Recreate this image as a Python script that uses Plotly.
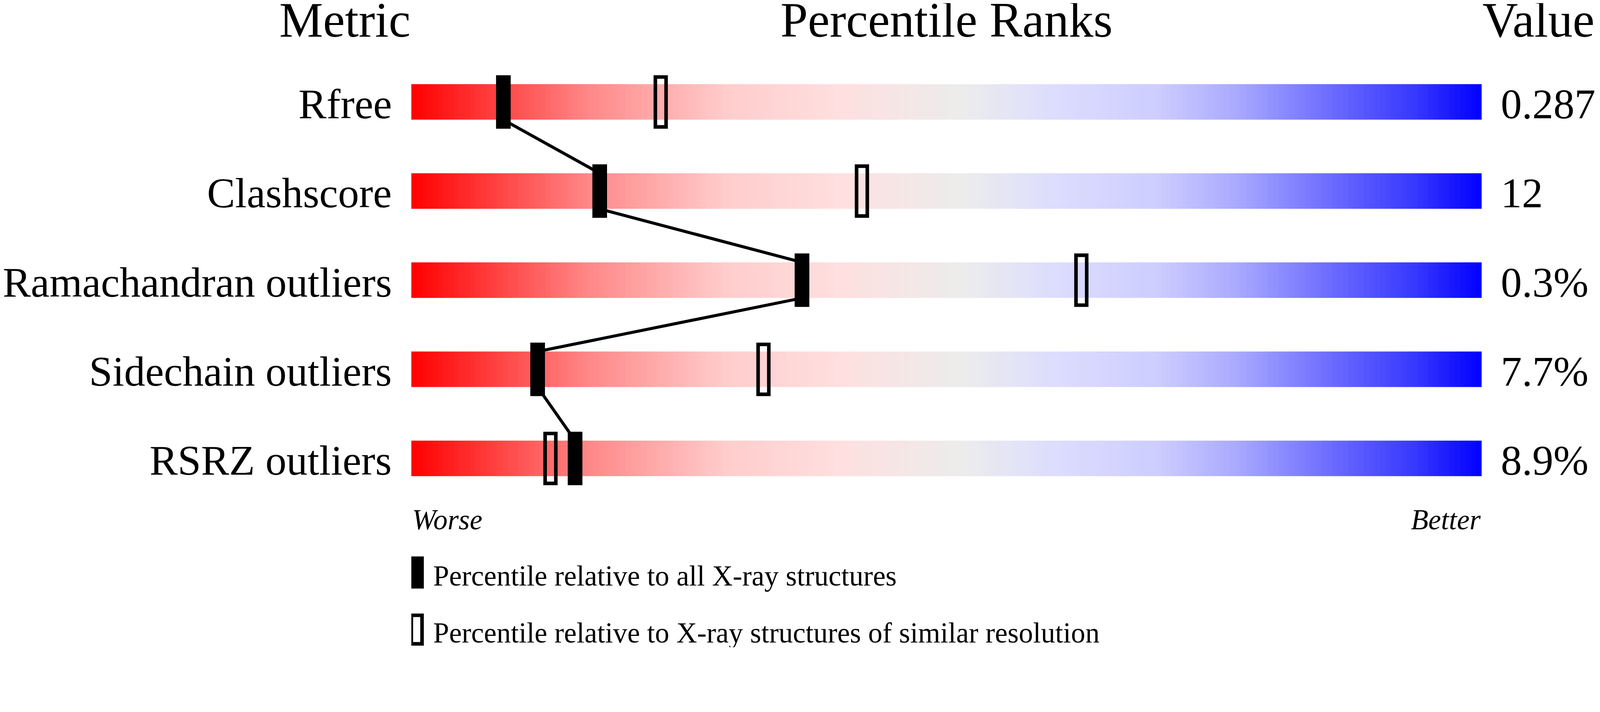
import plotly.graph_objects as go

metrics = ["Rfree", "Clashscore", "Ramachandran outliers", "Sidechain outliers", "RSRZ outliers"]
values = ["0.287", "12", "0.3%", "7.7%", "8.9%"]
pct_all = [8.6, 17.6, 36.5, 11.8, 15.3]      # relative to all X-ray structures
pct_res = [23.3, 42.1, 62.6, 32.9, 13.0]     # relative to similar resolution

# gradient of the slider bars (position 0..1, colour)
grad_stops = [
    [0.0, "#ff0000"], [0.166, "#ff8888"], [0.293, "#ffcccc"], [0.40, "#ffdfdf"],
    [0.515, "#ececec"], [0.606, "#dcdcff"], [0.697, "#cdcdff"], [0.77, "#aaaaff"],
    [0.86, "#6b6bff"], [0.937, "#3838ff"], [1.0, "#0000ff"],
]

# the page is laid out in css px, the photo is taken in device px
S = 4096 / 4485          # css px per photo px
OFF = 8                  # body margin of the page
W, H = round(4485 * S) - 2 * OFF, round(1824 * S) - 2 * OFF
ROW0, ROW_STEP = 286, 250          # photo px: centre of first row, px per row
BAR_L, BAR_R = 1153, 4153          # photo px: ends of the slider bars
FONT = "Liberation Serif"


def py(px):
    # photo pixel row -> y data value
    return (px - ROW0) / ROW_STEP


def pxx(px):
    # photo pixel column -> x data value
    return (px - BAR_L) / (BAR_R - BAR_L) * 100


def pxs(v):
    # photo px size -> css px
    return v * S


n = len(metrics)
rows = list(range(n))
bar_h = 0.2

fig = go.Figure()

edges = [i * 0.5 for i in range(201)]
centers = [(a + b) / 2 for a, b in zip(edges[:-1], edges[1:])]
for r in rows:
    fig.add_trace(go.Heatmap(
        x=edges, y=[r - bar_h, r + bar_h], z=[centers],
        zmin=0, zmax=100, colorscale=grad_stops, showscale=False, hoverinfo="skip",
    ))

# connecting line: bottom of one bar to top of the next, at the marker positions
lx, ly = [], []
for r in rows:
    lx += [pct_all[r], pct_all[r]]
    ly += [r - bar_h, r + bar_h]
fig.add_trace(go.Scatter(x=lx[1:-1], y=ly[1:-1], mode="lines",
                         line=dict(color="black", width=pxs(8.5)), hoverinfo="skip"))

fig.add_trace(go.Bar(
    x=pct_res, y=[0.56] * n, base=[r - 0.28 for r in rows], width=1.0,
    marker=dict(color="rgba(0,0,0,0)", line=dict(color="black", width=pxs(10))),
))
fig.add_trace(go.Bar(
    x=pct_all, y=[0.6] * n, base=[r - 0.3 for r in rows], width=1.37,
    marker=dict(color="black", line=dict(width=0)),
))

ann = []
for r in rows:
    ann.append(dict(x=0, y=r, text=metrics[r], xanchor="right",
                    xshift=-pxs(53), yshift=-pxs(6), font=dict(size=pxs(118))))
    ann.append(dict(x=100, y=r, text=values[r], xanchor="left",
                    xshift=pxs(52), yshift=-pxs(6), font=dict(size=pxs(118))))

ty = py(56)
ann += [
    dict(x=0, y=ty, text="Metric", xanchor="right", font=dict(size=pxs(138))),
    dict(x=50, y=ty, text="Percentile Ranks", xanchor="center", font=dict(size=pxs(138))),
    dict(x=100, y=ty, text="Value", xanchor="left", font=dict(size=pxs(138))),
    dict(x=0, y=py(1458), text="<i>Worse</i>", xanchor="left", font=dict(size=pxs(80))),
    dict(x=100, y=py(1458), text="<i>Better</i>", xanchor="right", font=dict(size=pxs(80))),
    dict(x=pxx(1212), y=py(1616), text="Percentile relative to all X-ray structures",
         xanchor="left", font=dict(size=pxs(80))),
    dict(x=pxx(1212), y=py(1776), text="Percentile relative to X-ray structures of similar resolution",
         xanchor="left", font=dict(size=pxs(80))),
]
for a in ann:
    a.update(xref="x", yref="y", showarrow=False)

shapes = [
    dict(type="rect", xref="x", yref="y", x0=pxx(1148), x1=pxx(1188), y0=py(1561), y1=py(1651),
         fillcolor="black", line=dict(width=0)),
    dict(type="rect", xref="x", yref="y", x0=pxx(1153), x1=pxx(1183), y0=py(1726), y1=py(1806),
         fillcolor="rgba(0,0,0,0)", line=dict(color="black", width=pxs(10))),
]

fig.update_layout(
    width=W, height=H,
    margin=dict(l=BAR_L * S - OFF, r=W - (BAR_R * S - OFF), t=0, b=0),
    paper_bgcolor="white", plot_bgcolor="white",
    font=dict(family=FONT, color="black"),
    barmode="overlay", showlegend=False,
    xaxis=dict(range=[0, 100], visible=False, fixedrange=True),
    yaxis=dict(range=[py((H + OFF) / S), py(OFF / S)], visible=False, fixedrange=True),
    annotations=ann, shapes=shapes,
)

fig.write_html("out.html")
